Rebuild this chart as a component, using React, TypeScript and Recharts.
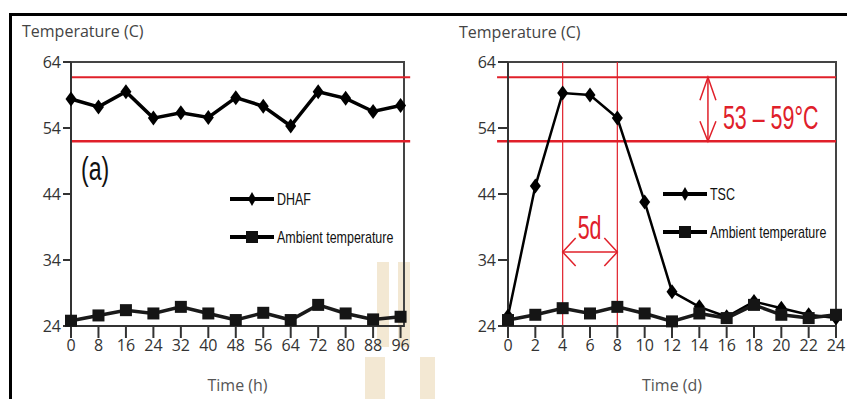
import React from 'react';
import { LineChart, Line, XAxis, YAxis, ReferenceLine, ReferenceArea, Legend } from 'recharts';

// left panel: hours
const hours = [0, 8, 16, 24, 32, 40, 48, 56, 64, 72, 80, 88, 96];
const dhaf = [58.4, 57.2, 59.5, 55.5, 56.3, 55.6, 58.6, 57.3, 54.3, 59.5, 58.5, 56.5, 57.4];
const ambientHours = [24.8, 25.6, 26.4, 25.9, 26.9, 25.9, 24.9, 26.0, 24.9, 27.2, 25.9, 25.0, 25.4];

// right panel: days
const days = [0, 2, 4, 6, 8, 10, 12, 14, 16, 18, 20, 22, 24];
const tsc = [25.5, 45.2, 59.3, 59.0, 55.5, 42.8, 29.2, 26.9, 25.4, 27.7, 26.7, 25.7, 25.2];
const ambientDays = [24.9, 25.7, 26.7, 25.9, 26.9, 25.9, 24.7, 25.9, 25.2, 27.2, 25.7, 25.2, 25.7];

const yTicks = [24, 34, 44, 54, 64];
const bandLow = 52;
const bandHigh = 61.7;
const periodStart = 4;
const periodEnd = 8;
const bandText = '53 – 59°C';
const periodText = '5d';

const leftData = hours.map((h, i) => ({ t: h, main: dhaf[i], ambient: ambientHours[i] }));
const rightData = days.map((d, i) => ({ t: d, main: tsc[i], ambient: ambientDays[i] }));

const RED = '#e0202a';
const AXIS = '#333';
const FONT = '"Open Sans", sans-serif';
const NARROW = '"Liberation Sans", Arial, sans-serif';

const diamond = (cx: number, cy: number, w: number, h: number) =>
  `M${cx},${cy - h / 2} L${cx + w / 2},${cy} L${cx},${cy + h / 2} L${cx - w / 2},${cy} Z`;

// the original uses a condensed face; squeeze a regular one horizontally
const Squeezed = ({ x, y, sx, children, ...rest }: any) => (
  <text transform={`translate(${x},${y}) scale(${sx},1)`} fontFamily={NARROW} {...rest}>
    {children}
  </text>
);

const DiamondDot = (props: any) => {
  const { cx, cy, index } = props;
  if (cx == null || cy == null) return <g key={index} />;
  return <path key={index} d={diamond(cx, cy, 11, 15)} fill="#000" />;
};

const SquareDot = (props: any) => {
  const { cx, cy, index } = props;
  if (cx == null || cy == null) return <g key={index} />;
  return <rect key={index} x={cx - 6} y={cy - 6} width={12} height={12} fill="#151515" />;
};

const renderLegend = (props: any) => {
  const items = [...(props.payload || [])].sort(
    (a: any, b: any) => (a.dataKey === 'main' ? 0 : 1) - (b.dataKey === 'main' ? 0 : 1)
  );
  return (
    <div>
      {items.map((entry: any) => (
        <svg key={entry.value} width={175} height={38} style={{ display: 'block' }}>
          <line x1={0} y1={19} x2={44} y2={19} stroke="#000" strokeWidth={4} />
          {entry.dataKey === 'ambient' ? (
            <rect x={16} y={13} width={12} height={12} fill="#111" />
          ) : (
            <path d={diamond(22, 19, 8, 14)} fill="#000" />
          )}
          <Squeezed x={47} y={25} sx={0.78} fontSize={16} fill="#111">
            {entry.value}
          </Squeezed>
        </svg>
      ))}
    </div>
  );
};

const VArrow = (props: any) => {
  const { x1, y1, x2, y2 } = props;
  const top = Math.min(y1, y2);
  const bot = Math.max(y1, y2);
  return (
    <g>
      <line x1={x1} y1={top} x2={x2} y2={bot} stroke={RED} strokeWidth={1.5} />
      <polyline points={`${x1 - 8},${top + 23} ${x1},${top} ${x1 + 8},${top + 23}`} fill="none" stroke={RED} strokeWidth={1.5} />
      <polyline points={`${x1 - 8},${bot - 20} ${x1},${bot} ${x1 + 8},${bot - 20}`} fill="none" stroke={RED} strokeWidth={1.5} />
      <Squeezed x={x1 + 15} y={(top + bot) / 2 + 20} sx={0.63} fontSize={34} fill={RED}>
        {bandText}
      </Squeezed>
    </g>
  );
};

const HArrow = (props: any) => {
  const { x1, y1, x2 } = props;
  const l = Math.min(x1, x2);
  const r = Math.max(x1, x2);
  return (
    <g>
      <line x1={l} y1={y1} x2={r} y2={y1} stroke={RED} strokeWidth={1.5} />
      <polyline points={`${l + 13},${y1 - 14} ${l},${y1} ${l + 13},${y1 + 14}`} fill="none" stroke={RED} strokeWidth={1.5} />
      <polyline points={`${r - 13},${y1 - 14} ${r},${y1} ${r - 13},${y1 + 14}`} fill="none" stroke={RED} strokeWidth={1.5} />
      <Squeezed x={l + 15} y={y1 - 13} sx={0.63} fontSize={34} fill={RED}>
        {periodText}
      </Squeezed>
    </g>
  );
};

const tickStyle = { fill: '#333', fontSize: 16, fontFamily: FONT };
const wm = '#f3e8d3';

const App = () => {
  return (
    <div style={{ position: 'absolute', left: 0, top: 0, width: 847, height: 399, background: '#fff', overflow: 'hidden' }}>
      {/* watermark */}
      <div style={{ position: 'absolute', left: 377, top: 262, width: 12, height: 85, background: wm }} />
      <div style={{ position: 'absolute', left: 398, top: 262, width: 12, height: 85, background: wm }} />
      <div style={{ position: 'absolute', left: 365, top: 357, width: 20, height: 42, background: wm }} />
      <div style={{ position: 'absolute', left: 420, top: 357, width: 15, height: 42, background: wm }} />

      {/* frame */}
      <div style={{ position: 'absolute', left: 9, top: 13, width: 845, height: 400, borderTop: '3px solid #000', borderLeft: '3px solid #000' }} />

      <div style={{ position: 'absolute', left: 22, top: 20, fontFamily: FONT, fontSize: 16, color: '#444' }}>Temperature (C)</div>
      <div style={{ position: 'absolute', left: 459, top: 21, fontFamily: FONT, fontSize: 16, color: '#444' }}>Temperature (C)</div>
      <svg style={{ position: 'absolute', left: 78, top: 140 }} width={60} height={50}>
        <Squeezed x={3} y={40} sx={0.68} fontSize={34} fill="#111">
          (a)
        </Squeezed>
      </svg>

      <div style={{ position: 'absolute', left: 0, top: 0 }}>
        <LineChart width={430} height={399} data={leftData} margin={{ top: 62, right: 26, bottom: 43, left: 11 }}>
          <XAxis
            dataKey="t"
            type="number"
            domain={[0, 97]}
            ticks={hours}
            interval={0}
            tickSize={12}
            height={30}
            stroke={AXIS}
            strokeWidth={2}
            tick={tickStyle}
            label={{ value: 'Time (h)', position: 'bottom', offset: 24, fill: '#555', fontSize: 16, fontFamily: FONT }}
          />
          <YAxis
            type="number"
            domain={[24, 64]}
            ticks={yTicks}
            width={60}
            tickSize={8}
            stroke={AXIS}
            strokeWidth={2}
            tick={tickStyle}
          />
          <ReferenceArea x1={0} x2={97} y1={24} y2={64} fill="none" stroke="#444" strokeWidth={2} />
          <ReferenceLine segment={[{ x: 0, y: bandHigh }, { x: 98.8, y: bandHigh }]} ifOverflow="visible" stroke={RED} strokeWidth={2} />
          <ReferenceLine segment={[{ x: 0, y: bandLow }, { x: 98.8, y: bandLow }]} ifOverflow="visible" stroke={RED} strokeWidth={2.5} />
          <Line dataKey="main" name="DHAF" stroke="#000" strokeWidth={3.5} dot={DiamondDot} isAnimationActive={false} />
          <Line dataKey="ambient" name="Ambient temperature" stroke="#1a1a1a" strokeWidth={3.5} dot={SquareDot} isAnimationActive={false} />
          <Legend
            layout="vertical"
            align="center"
            verticalAlign="middle"
            content={renderLegend}
            wrapperStyle={{ left: 230, top: 180, width: 175 }}
          />
        </LineChart>
      </div>

      <div style={{ position: 'absolute', left: 430, top: 0 }}>
        <LineChart width={417} height={399} data={rightData} margin={{ top: 62, right: 11, bottom: 43, left: 18 }}>
          <XAxis
            dataKey="t"
            type="number"
            domain={[0, 24]}
            ticks={days}
            interval={0}
            tickSize={12}
            height={30}
            stroke={AXIS}
            strokeWidth={2}
            tick={tickStyle}
            label={{ value: 'Time (d)', position: 'bottom', offset: 24, fill: '#555', fontSize: 16, fontFamily: FONT }}
          />
          <YAxis
            type="number"
            domain={[24, 64]}
            ticks={yTicks}
            width={60}
            tickSize={10}
            stroke={AXIS}
            strokeWidth={2}
            tick={tickStyle}
          />
          <ReferenceArea x1={0} x2={24} y1={24} y2={64} fill="none" stroke="#444" strokeWidth={2} />
          <ReferenceLine segment={[{ x: -0.8, y: bandHigh }, { x: 24, y: bandHigh }]} ifOverflow="visible" stroke={RED} strokeWidth={2} />
          <ReferenceLine segment={[{ x: -0.8, y: bandLow }, { x: 24, y: bandLow }]} ifOverflow="visible" stroke={RED} strokeWidth={2.5} />
          <ReferenceLine x={periodStart} stroke={RED} strokeWidth={1.2} />
          <ReferenceLine x={periodEnd} stroke={RED} strokeWidth={1.2} />
          <ReferenceLine
            segment={[{ x: 14.63, y: bandHigh }, { x: 14.63, y: bandLow }]}
            ifOverflow="visible"
            stroke={RED}
            shape={VArrow}
          />
          <ReferenceLine
            segment={[{ x: periodStart, y: 35.2 }, { x: periodEnd, y: 35.2 }]}
            ifOverflow="visible"
            stroke={RED}
            shape={HArrow}
          />
          <Line dataKey="main" name="TSC" stroke="#000" strokeWidth={2.5} dot={DiamondDot} isAnimationActive={false} />
          <Line dataKey="ambient" name="Ambient temperature" stroke="#1a1a1a" strokeWidth={3.5} dot={SquareDot} isAnimationActive={false} />
          <Legend
            layout="vertical"
            align="center"
            verticalAlign="middle"
            content={renderLegend}
            wrapperStyle={{ left: 233, top: 175, width: 175 }}
          />
        </LineChart>
      </div>
    </div>
  );
};

export default App;
